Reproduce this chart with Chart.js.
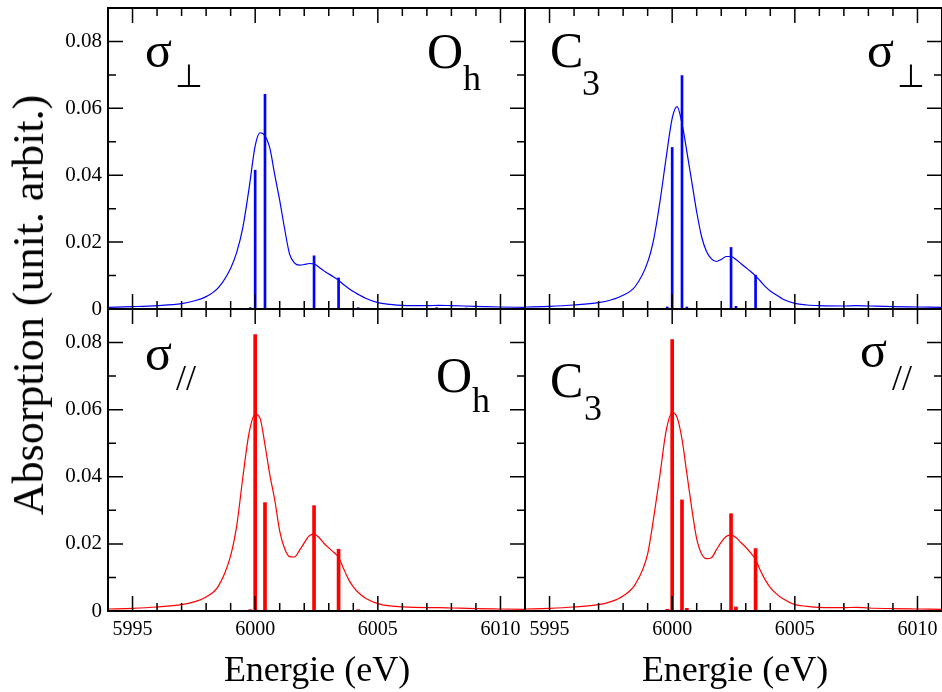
<!DOCTYPE html>
<html>
<head>
<meta charset="utf-8">
<script src="https://cdn.jsdelivr.net/npm/chart.js@4.4.1/dist/chart.umd.min.js"></script>
<style>
  body { margin: 0; background: #fff; width: 942px; height: 692px; overflow: hidden; position: relative; }
  canvas { position: absolute; left: 0; top: 0; }
  .title { position: absolute; white-space: nowrap; color: #000; font-family: "Liberation Serif", serif; }
  #ytitle { left: 29px; top: 305px; font-size: 44px; line-height: 44px; transform: translate(-50%, -50%) rotate(-90deg); }
  .xt { top: 651px; font-size: 36px; line-height: 36px; transform: translateX(-50%); }
</style>
</head>
<body>
<canvas id="tl" width="942" height="692"></canvas>
<canvas id="tr" width="942" height="692"></canvas>
<canvas id="bl" width="942" height="692"></canvas>
<canvas id="br" width="942" height="692"></canvas>
<div class="title" id="ytitle">Absorption (unit. arbit.)</div>
<div class="title xt" style="left:317px">Energie (eV)</div>
<div class="title xt" style="left:735px">Energie (eV)</div>
<script>
// axis ticks
const xTicks = [5995, 6000, 6005, 6010];
const yTicks = [0, 0.02, 0.04, 0.06, 0.08];

// energy grid shared by the broadened curves (eV)
const energy = [5994, 5995, 5996, 5997, 5997.5, 5998, 5998.5, 5999, 5999.25, 5999.5, 5999.75,
  6000, 6000.2, 6000.4, 6000.6, 6000.8, 6001, 6001.2, 6001.4, 6001.6, 6001.8,
  6002, 6002.2, 6002.4, 6002.6, 6002.8, 6003, 6003.2, 6003.4, 6003.6, 6003.8,
  6004, 6004.25, 6004.5, 6005, 6005.5, 6006, 6007, 6007.5, 6008, 6009, 6010, 6011];

// sigma perp, Oh
const perpOhCurve = [0.0005, 0.0007, 0.0010, 0.0016, 0.0024, 0.0037, 0.0064, 0.0122, 0.0170, 0.0245, 0.0360,
  0.0488, 0.0527, 0.0518, 0.0480, 0.0400, 0.0325, 0.0240, 0.0165, 0.0138, 0.0131,
  0.0133, 0.0136, 0.0135, 0.0125, 0.0114, 0.0105, 0.0096, 0.0086, 0.0073, 0.0062,
  0.0052, 0.0042, 0.0032, 0.0019, 0.0014, 0.0011, 0.0010, 0.0011, 0.0010, 0.0008, 0.0006, 0.0005];
const perpOhStickE = [5999.8, 6000.0, 6000.4, 6002.4, 6003.4, 6004.2, 6007.4, 6008.6];
const perpOhStickH = [0.0004, 0.0415, 0.0642, 0.0159, 0.0093, 0.0004, 0.0004, 0.0003];

// sigma perp, C3
const perpC3Curve = [0.0006, 0.0008, 0.0012, 0.0019, 0.0027, 0.0041, 0.0068, 0.0140, 0.0210, 0.0320, 0.0450,
  0.0570, 0.0605, 0.0555, 0.0470, 0.0380, 0.0290, 0.0216, 0.0172, 0.0150, 0.0142,
  0.0148, 0.0157, 0.0157, 0.0148, 0.0136, 0.0124, 0.0112, 0.0099, 0.0083, 0.0067,
  0.0054, 0.0042, 0.0030, 0.0017, 0.0012, 0.0010, 0.0009, 0.0010, 0.0009, 0.0007, 0.0006, 0.0005];
const perpC3StickE = [5999.8, 6000.0, 6000.4, 6000.6, 6002.4, 6002.6, 6003.4, 6004.0];
const perpC3StickH = [0.0006, 0.0483, 0.0698, 0.0006, 0.0184, 0.0008, 0.0101, 0.0003];

// sigma parallel, Oh
const parOhCurve = [0.0006, 0.0008, 0.0012, 0.0019, 0.0027, 0.0042, 0.0074, 0.0165, 0.0255, 0.0400, 0.0530,
  0.0587, 0.0574, 0.0495, 0.0405, 0.0330, 0.0238, 0.0186, 0.0162, 0.0161, 0.0180,
  0.0203, 0.0224, 0.0229, 0.0219, 0.0202, 0.0188, 0.0175, 0.0160, 0.0127, 0.0095,
  0.0072, 0.0052, 0.0038, 0.0022, 0.0015, 0.0012, 0.0010, 0.0010, 0.0009, 0.0007, 0.0006, 0.0005];
const parOhStickE = [5999.8, 6000.0, 6000.4, 6002.4, 6003.4, 6004.2];
const parOhStickH = [0.0004, 0.0824, 0.0323, 0.0314, 0.0184, 0.0004];

// sigma parallel, C3
const parC3Curve = [0.0006, 0.0008, 0.0012, 0.0019, 0.0028, 0.0045, 0.0080, 0.0170, 0.0280, 0.0405, 0.0535,
  0.0591, 0.0577, 0.0512, 0.0409, 0.0305, 0.0215, 0.0170, 0.0156, 0.0159, 0.0182,
  0.0205, 0.0222, 0.0226, 0.0219, 0.0204, 0.0190, 0.0173, 0.0154, 0.0120, 0.0092,
  0.0070, 0.0051, 0.0037, 0.0019, 0.0014, 0.0011, 0.0010, 0.0011, 0.0009, 0.0007, 0.0006, 0.0005];
const parC3StickE = [5999.8, 6000.0, 6000.4, 6000.6, 6002.4, 6002.6, 6003.4];
const parC3StickH = [0.0005, 0.0809, 0.0331, 0.0008, 0.0290, 0.0012, 0.0186];

// frame, inward ticks and panel captions
const framePlugin = {
  id: 'frameTicks',
  afterDatasetsDraw(chart, args, opts) {
    const { ctx, chartArea: a, scales: { x, y } } = chart;
    ctx.save();
    ctx.strokeStyle = '#000';
    ctx.lineWidth = 1.5;
    ctx.beginPath();
    for (let v = Math.ceil(x.min); v <= x.max; v++) {
      const px = x.getPixelForValue(v);
      const len = v % 5 === 0 ? 15 : 8;
      ctx.moveTo(px, a.bottom); ctx.lineTo(px, a.bottom - len);
      ctx.moveTo(px, a.top); ctx.lineTo(px, a.top + len);
    }
    for (let i = 0; i <= 9; i++) {
      const py = y.getPixelForValue(i / 100);
      const len = i % 2 === 0 ? 15 : 8;
      if (opts.leftTicks) { ctx.moveTo(a.left, py); ctx.lineTo(a.left + len, py); }
      ctx.moveTo(a.right, py); ctx.lineTo(a.right - len, py);
    }
    ctx.stroke();
    ctx.lineWidth = 2;
    ctx.strokeRect(a.left, a.top, a.right - a.left, a.bottom - a.top);

    ctx.fillStyle = '#000';
    ctx.textBaseline = 'alphabetic';
    ctx.textAlign = 'left';
    (opts.captions || []).forEach(c => {
      ctx.font = c.font;
      ctx.fillText(c.text, c.x, c.y);
    });
    ctx.restore();
  }
};

const SERIF = '"Liberation Serif", serif';

function makePanel(id, curve, stickE, stickH, color, stickWidth, box, showX, showY, captions) {
  const W = 60, H = 40;
  new Chart(document.getElementById(id), {
    type: 'line',
    data: {
      datasets: [
        {
          type: 'line',
          data: energy.map((e, i) => ({ x: e, y: curve[i] })),
          borderColor: color,
          borderWidth: 1.2,
          pointRadius: 0,
          cubicInterpolationMode: 'monotone',
          fill: false
        },
        {
          type: 'bar',
          data: stickE.map((e, i) => ({ x: e, y: stickH[i] })),
          backgroundColor: color,
          borderWidth: 0,
          barThickness: stickWidth,
          grouped: false
        }
      ]
    },
    options: {
      responsive: false,
      animation: false,
      events: [],
      layout: {
        padding: { left: box.left - W, top: box.top, right: 942 - box.right, bottom: 692 - box.bottom - H }
      },
      scales: {
        x: {
          type: 'linear',
          min: 5994,
          max: 6011,
          offset: false,
          grid: { display: false, drawTicks: false, offset: false },
          border: { display: false },
          afterBuildTicks: s => { s.ticks = xTicks.map(v => ({ value: v })); },
          afterFit: s => { s.height = H; s.paddingLeft = 0; s.paddingRight = 0; },
          ticks: {
            display: showX,
            padding: 7,
            color: '#000',
            font: { family: SERIF, size: 20 },
            callback: v => String(v)
          }
        },
        y: {
          type: 'linear',
          min: 0,
          max: 0.09,
          grid: { display: false, drawTicks: false },
          border: { display: false },
          afterBuildTicks: s => { s.ticks = yTicks.map(v => ({ value: v })); },
          afterFit: s => { s.width = W; s.paddingTop = 0; s.paddingBottom = 0; },
          ticks: {
            display: showY,
            padding: 6,
            color: '#000',
            font: { family: SERIF, size: 21 },
            callback: v => v === 0 ? '0' : v.toFixed(2)
          }
        }
      },
      plugins: {
        legend: { display: false },
        tooltip: { enabled: false },
        frameTicks: { leftTicks: showY, captions: captions }
      }
    },
    plugins: [framePlugin]
  });
}

const big = '50px ' + SERIF;
const sub = '36px ' + SERIF;
const perpFont = '32px "DejaVu Sans", sans-serif';

makePanel('tl', perpOhCurve, perpOhStickE, perpOhStickH, '#0000ff', 2,
  { left: 108, top: 8, right: 525, bottom: 309 }, false, true, [
    { text: 'σ', x: 145, y: 67, font: big },
    { text: '⊥', x: 175, y: 87, font: perpFont },
    { text: 'O', x: 427, y: 68, font: big },
    { text: 'h', x: 463, y: 90, font: sub }
  ]);
makePanel('tr', perpC3Curve, perpC3StickE, perpC3StickH, '#0000ff', 2,
  { left: 525, top: 8, right: 942, bottom: 309 }, false, false, [
    { text: 'C', x: 550, y: 67, font: big },
    { text: '3', x: 582, y: 95, font: sub },
    { text: 'σ', x: 867, y: 67, font: big },
    { text: '⊥', x: 897, y: 87, font: perpFont }
  ]);
makePanel('bl', parOhCurve, parOhStickE, parOhStickH, '#ff0000', 3,
  { left: 108, top: 309, right: 525, bottom: 611 }, true, true, [
    { text: 'σ', x: 145, y: 370, font: big },
    { text: '//', x: 176, y: 390, font: sub },
    { text: 'O', x: 436, y: 392, font: big },
    { text: 'h', x: 472, y: 412, font: sub }
  ]);
makePanel('br', parC3Curve, parC3StickE, parC3StickH, '#ff0000', 3,
  { left: 525, top: 309, right: 942, bottom: 611 }, true, false, [
    { text: 'C', x: 550, y: 397, font: big },
    { text: '3', x: 584, y: 420, font: sub },
    { text: 'σ', x: 860, y: 367, font: big },
    { text: '//', x: 892, y: 390, font: sub }
  ]);
</script>
</body>
</html>
